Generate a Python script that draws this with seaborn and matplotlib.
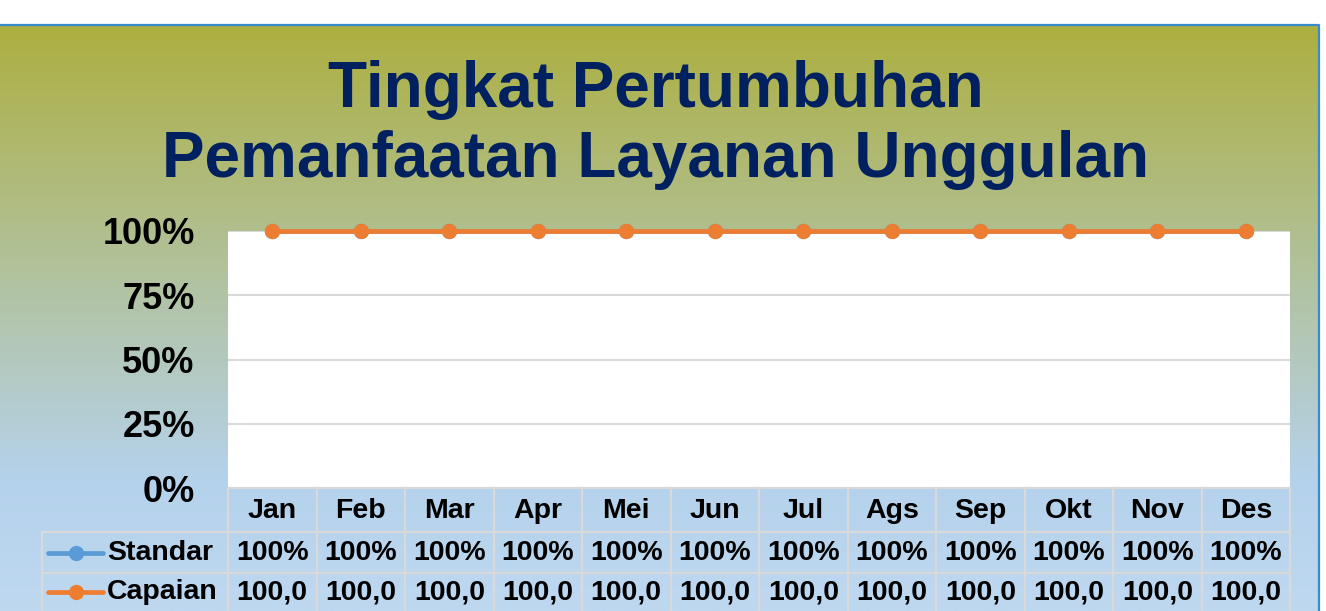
import numpy as np
import pandas as pd
import seaborn as sns
import matplotlib.pyplot as plt
import matplotlib.transforms as mtransforms
from matplotlib.colors import LinearSegmentedColormap
from matplotlib.lines import Line2D

# Data
bulan = ['Jan', 'Feb', 'Mar', 'Apr', 'Mei', 'Jun', 'Jul', 'Ags', 'Sep', 'Okt', 'Nov', 'Des']
standar = [100, 100, 100, 100, 100, 100, 100, 100, 100, 100, 100, 100]
capaian = [100.0, 100.0, 100.0, 100.0, 100.0, 100.0, 100.0, 100.0, 100.0, 100.0, 100.0, 100.0]
seri = ['Standar', 'Capaian']
warna = {'Standar': '#5B9BD5', 'Capaian': '#ED7D31'}
yticks = [0, 25, 50, 75, 100]

df = pd.DataFrame({
    'Bulan': bulan * 2,
    'Nilai': standar + capaian,
    'Seri': ['Standar'] * len(bulan) + ['Capaian'] * len(bulan),
})

sns.set_theme(style='white')
plt.rcParams['font.family'] = ['Liberation Sans', 'DejaVu Sans']
plt.rcParams['font.weight'] = 'bold'
plt.rcParams['text.color'] = 'black'
plt.rcParams['ytick.color'] = 'black'
plt.rcParams['ytick.labelcolor'] = 'black'

W, H = 1326, 611
fig = plt.figure(figsize=(W / 100, H / 100), dpi=100)
fig.patch.set_facecolor('white')

def fx(x):
    return x / W

def fy(y):
    return 1 - y / H

# Gradient background of the chart area
bg = fig.add_axes([0, 0, fx(1319), (H - 25) / H])
bg.set_zorder(-5)
grad = LinearSegmentedColormap.from_list('bg', [
    (0.0, (173 / 255, 175 / 255, 64 / 255)),
    (0.78, (181 / 255, 210 / 255, 236 / 255)),
    (1.0, (190 / 255, 216 / 255, 240 / 255)),
])
bg.imshow(np.linspace(0, 1, 256).reshape(-1, 1), cmap=grad, aspect='auto',
          extent=[0, 1, 0, 1])
bg.axis('off')

# Blue border
fig.add_artist(Line2D([0, fx(1319), fx(1319)], [fy(24.5), fy(24.5), 0],
                      transform=fig.transFigure, color='#3A8AD0', lw=1.6))

# Plot area
ax = fig.add_axes([fx(228), fy(488), fx(1290) - fx(228), fy(231) - fy(488)])
ax.set_facecolor('white')
sns.lineplot(data=df, x='Bulan', y='Nilai', hue='Seri', hue_order=seri,
             palette=warna, marker='o', markersize=11, markeredgewidth=0,
             linewidth=3.4, legend=False, sort=False, ax=ax,
             clip_on=False, zorder=3)
ax.set_xlim(-0.5, len(bulan) - 0.5)
ax.set_ylim(0, 100)
ax.set_yticks(yticks)
ax.set_yticklabels([f'{v}%' for v in yticks], fontsize=26, fontweight='bold',
                   color='black')
ax.tick_params(axis='y', length=0, pad=24)
ax.set_xticks([])
ax.set_xlabel('')
ax.set_ylabel('')
ax.yaxis.grid(True, color='#D9D9D9', lw=1.5)
ax.set_axisbelow(True)
for s in ax.spines.values():
    s.set_visible(False)

# Title
judul_warna = '#002060'
fig.text(fx(656), fy(107), 'Tingkat Pertumbuhan', ha='center', va='baseline',
         fontsize=46, fontweight='bold', color=judul_warna)
fig.text(fx(656), fy(177), 'Pemanfaatan Layanan Unggulan', ha='center', va='baseline',
         fontsize=46, fontweight='bold', color=judul_warna)

# Data table below the plot
tr = mtransforms.blended_transform_factory(ax.transData, fig.transFigure)
grid_c = '#D9D9D9'
n = len(bulan)
y_head, y_r1, y_r2 = 511, 553, 592

for i in range(n + 1):
    fig.add_artist(Line2D([i - 0.5, i - 0.5], [fy(488), 0], transform=tr,
                          color=grid_c, lw=1.6))
fig.add_artist(Line2D([fx(42), fx(42)], [fy(532), 0], transform=fig.transFigure,
                      color=grid_c, lw=1.6))
fig.add_artist(Line2D([fx(228), fx(1290)], [fy(488), fy(488)],
                      transform=fig.transFigure, color=grid_c, lw=1.6))
for yy in (532, 573):
    fig.add_artist(Line2D([fx(42), fx(1290)], [fy(yy), fy(yy)],
                          transform=fig.transFigure, color=grid_c, lw=1.6))

for i, b in enumerate(bulan):
    fig.text(i, fy(y_head), b, transform=tr, ha='center', va='center',
             fontsize=20.5, fontweight='bold', color='black')
    fig.text(i, fy(y_r1), f'{standar[i]:.0f}%', transform=tr, ha='center',
             va='center', fontsize=20.5, fontweight='bold', color='black')
    fig.text(i, fy(y_r2), f'{capaian[i]:.1f}'.replace('.', ','), transform=tr,
             ha='center', va='center', fontsize=20.5, fontweight='bold', color='black')

# Legend keys inside the table
for nama, yy in zip(seri, (y_r1, y_r2)):
    fig.add_artist(Line2D([fx(48), fx(75.5), fx(103)], [fy(yy)] * 3,
                          transform=fig.transFigure, color=warna[nama], lw=3.4,
                          marker='o', markersize=11, markeredgewidth=0,
                          markevery=[1]))
    fig.text(fx(107), fy(yy), nama, ha='left', va='center', fontsize=20.5,
             fontweight='bold', color='black')

fig.savefig('out.png', dpi=100)
